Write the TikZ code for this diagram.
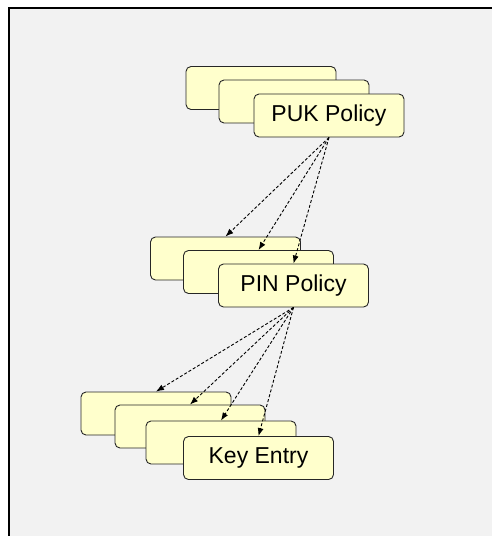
\documentclass[tikz,border=0pt]{standalone}
\usepackage{fontspec}
\setmainfont{Liberation Sans}
\usetikzlibrary{arrows.meta}
\definecolor{boxfill}{HTML}{FFFFCC}
\definecolor{bg}{HTML}{F2F2F2}
\begin{document}
\begin{tikzpicture}[x=1pt,y=-1pt,
  card/.style={draw=black!85, fill=boxfill, line width=0.9pt, rounded corners=5pt,
    minimum width=150pt, minimum height=43pt, inner sep=0pt, font=\fontsize{23}{25}\selectfont},
  link/.style={draw=black, line width=0.9pt, dash pattern=on 3pt off 2pt,
    -{Latex[length=8pt,width=6pt]}}]
\useasboundingbox (0,0) rectangle (492,536);
\fill[bg] (9,8) rectangle (492,536);
\draw[line width=1.5pt] (9,536) -- (9,8) -- (492,8);
% PUK group
\node[card] (puk1) at (261,88) {};
\node[card] (puk2) at (294,101.5) {};
\node[card] (puk3) at (329,115.5) {PUK Policy};
% PIN group
\node[card] (pin1) at (225.5,258.5) {};
\node[card] (pin2) at (258.5,272) {};
\node[card] (pin3) at (293.5,285.5) {PIN Policy};
% Key group
\node[card] (key1) at (156,413.5) {};
\node[card] (key2) at (190,426.5) {};
\node[card] (key3) at (221,442.5) {};
\node[card] (key4) at (258.5,458) {Key Entry};
% connectors
\draw[link] (puk3.south) -- (pin1.north);
\draw[link] (puk3.south) -- (pin2.north);
\draw[link] (puk3.south) -- (pin3.north);
\draw[link] (pin3.south) -- (key1.north);
\draw[link] (pin3.south) -- (key2.north);
\draw[link] (pin3.south) -- (key3.north);
\draw[link] (pin3.south) -- (key4.north);
\end{tikzpicture}
\end{document}
